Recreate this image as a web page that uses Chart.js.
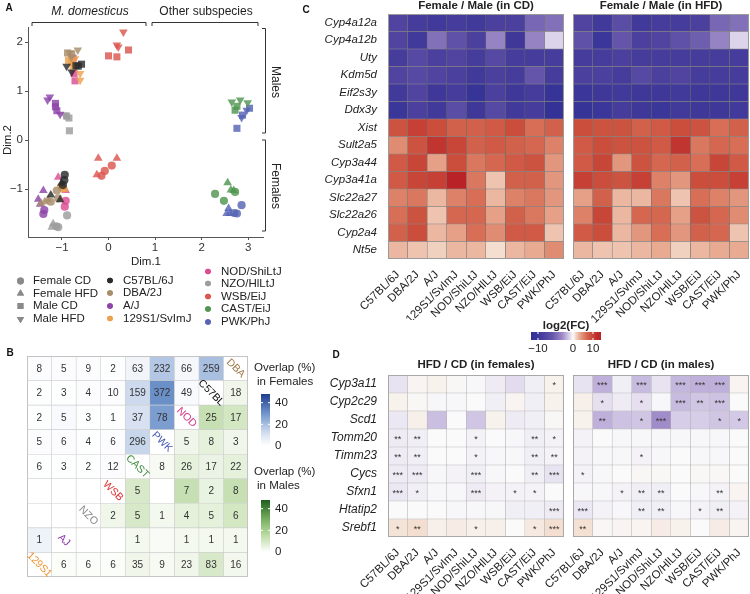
<!DOCTYPE html>
<html><head><meta charset="utf-8">
<script src="https://cdn.jsdelivr.net/npm/chart.js@4.4.1/dist/chart.umd.min.js"></script>
<style>
html,body{margin:0;padding:0;background:#fff;}
#wrap{position:relative;width:750px;height:594px;overflow:hidden;background:#fff;}
canvas{position:absolute;}
</style></head><body><div id="wrap">
<canvas id="cA" width="300" height="335" style="left:0;top:0;width:300px;height:335px"></canvas>
<canvas id="cB" width="330" height="259" style="left:0;top:335px;width:330px;height:259px"></canvas>
<canvas id="cCL" width="265" height="320" style="left:300px;top:0;width:265px;height:320px"></canvas>
<canvas id="cCR" width="250" height="355" style="left:500px;top:0;width:250px;height:355px"></canvas>
<canvas id="cDL" width="265" height="249" style="left:300px;top:345px;width:265px;height:249px"></canvas>
<canvas id="cDR" width="250" height="249" style="left:500px;top:345px;width:250px;height:249px"></canvas>
</div>
<script>
// ---------------- DATA ----------------
const strains = ['C57BL/6J','DBA/2J','A/J','129S1/SvImJ','NOD/ShiLtJ','NZO/HlLtJ','WSB/EiJ','CAST/EiJ','PWK/PhJ'];
const strainColors = ['#2b2b2b','#a88d6b','#8e44a8','#eba24e','#dc4c91','#9c9c9c','#dc5550','#4f9650','#5564b4'];
const groups = ['Female CD','Female HFD','Male CD','Male HFD'];
const xTicksA = [-1,0,1,2,3];
const yTicksA = [-1,0,1,2];
// MDS points: [Dim.1, Dim.2, group index]
const ptsC57  = [[-0.94,-0.71,0],[-0.95,-0.82,0],[-0.98,-0.92,0],[-1.01,-0.88,1],[-1.24,-1.12,1],[-1.04,-1.22,1],[-0.58,1.55,2],[-0.65,1.51,2],[-0.70,1.52,2],[-0.90,1.51,3],[-0.79,1.39,3]];
const ptsDBA  = [[-1.11,-1.03,0],[-1.24,-1.26,0],[-1.08,-1.19,0],[-1.37,-1.26,1],[-1.45,-1.29,1],[-1.30,-1.22,1],[-0.88,1.78,2],[-0.79,1.76,2],[-0.66,1.84,3],[-0.83,1.78,3],[-0.80,1.70,3]];
const ptsAJ   = [[-1.38,-1.43,0],[-1.40,-1.51,0],[-1.40,-1.03,1],[-1.51,-1.21,1],[-1.47,-1.31,1],[-1.14,0.75,2],[-1.14,0.68,2],[-1.11,0.60,2],[-1.26,0.88,3],[-1.31,0.82,3],[-1.04,0.53,3]];
const pts129  = [[-0.97,-0.99,0],[-1.02,-0.95,0],[-0.95,-1.00,1],[-0.86,1.63,2],[-0.76,1.50,2],[-0.80,1.58,2],[-0.61,1.36,3],[-0.61,1.22,3],[-0.72,1.66,3]];
const ptsNOD  = [[-0.92,-1.24,0],[-0.94,-1.36,0],[-1.08,-0.76,1],[-0.92,-1.03,1],[-0.76,1.67,2],[-0.74,1.36,2],[-0.72,1.21,2],[-0.78,1.62,3]];
const ptsNZO  = [[-0.89,-1.54,0],[-1.08,-1.78,0],[-1.12,-1.76,0],[-1.19,-1.71,1],[-1.22,-1.78,1],[-0.90,0.49,2],[-0.85,0.45,2],[-0.84,0.19,2],[-0.94,0.51,3]];
const ptsWSB  = [[-0.15,-0.73,0],[-0.08,-0.63,0],[0.07,-0.52,0],[-0.22,-0.37,1],[0.18,-0.37,1],[-0.25,-0.71,1],[0.00,1.72,2],[0.18,1.70,2],[0.43,1.84,2],[0.32,2.21,3],[0.18,1.94,3],[0.21,1.90,3]];
const ptsCAST = [[2.29,-1.10,0],[2.48,-1.24,0],[2.72,-1.06,0],[2.56,-0.87,1],[2.63,-1.02,1],[2.69,-1.03,1],[2.72,0.61,2],[2.76,0.69,2],[2.65,0.78,3],[2.83,0.82,3],[2.99,0.76,3]];
const ptsPWK  = [[2.76,-1.50,0],[2.86,-1.33,0],[2.70,-1.49,0],[2.58,-1.40,1],[2.61,-1.50,1],[2.54,-1.50,1],[3.03,0.65,2],[2.76,0.24,2],[2.88,0.51,2],[2.86,0.46,3],[2.97,0.61,3]];
const ptsA = [ptsC57,ptsDBA,ptsAJ,pts129,ptsNOD,ptsNZO,ptsWSB,ptsCAST,ptsPWK];

// Panel B: overlap counts (null = empty) and overlap % (colour)
const diagNames = ['DBA','C57BL','NOD','PWK','CAST','WSB','NZO','AJ','129S1'];
const diagColors = ['#a07a4a','#111111','#d63384','#4555b5','#3a8a3a','#e03030','#888888','#8a35a8','#ef9230'];
const countsB = [
 [8,5,9,2,63,232,66,259,null],
 [2,3,4,10,159,372,49,null,18],
 [2,5,3,1,37,78,null,25,17],
 [5,6,4,6,296,null,5,8,3],
 [6,3,2,12,null,8,26,17,22],
 [null,null,null,null,5,null,7,2,8],
 [null,null,null,2,5,1,4,5,6],
 [1,null,null,null,1,null,1,1,1],
 [null,6,6,6,35,9,23,83,16]];
const pctB = [
 [1,1,1,0.5,4,18,3,20,0],
 [0.5,0.5,1,1,13,31,2,0,3.5],
 [0.5,2,0.5,0.5,11,28,0,13,10],
 [1,1,0.5,1,14,0,3.5,6,3.5],
 [0.5,0.5,0.5,1,0,2,6,4.5,6],
 [0,0,0,0,9,0,13,5,13],
 [0,0,0,3.5,9,2.5,6,6,10],
 [5,0,0,0,2.5,1.5,2.5,2.5,2.5],
 [0,1,1,1,3.5,2,3.5,9,3]];
const legendTicksB = [0,20,40];

// Panel C: log2(FC) female/male
const genesC = ['Cyp4a12a','Cyp4a12b','Uty','Kdm5d','Eif2s3y','Ddx3y','Xist','Sult2a5','Cyp3a44','Cyp3a41a','Slc22a27','Slc22a26','Cyp2a4','Nt5e'];
const fcCD = [
 [-8,-9,-9.5,-9,-9.5,-8.5,-8.5,-5,-4.5],
 [-8,-9.5,-4.5,-6.5,-8.5,-3.5,-10,-3.5,-1],
 [-9,-7.5,-8.5,-8,-9,-7.5,-9,-9,-9],
 [-8,-7.5,-8,-8.5,-9.5,-8.5,-9,-6,-9],
 [-9.5,-8,-10,-9,-11,-8.5,-10,-9,-11],
 [-10.5,-8.5,-9.5,-7,-10,-7.5,-9.5,-9,-11.5],
 [8,9.5,8.5,7,7,7.5,8.5,6,7],
 [4.5,8,10.5,9,7,7.5,7,6.5,5],
 [7.5,9,3.5,8.5,5.5,6.5,7.5,8,4],
 [7.5,9,9.5,12,5.5,2,7,7,4],
 [5,5.5,2.5,5,6,2.5,5,5.5,4],
 [6,8,2,6.5,6.5,3.5,7,5.5,3.5],
 [7,8.5,2.5,3.5,6,4.5,7.5,7.5,2],
 [2.5,2,1.5,2.5,2.5,1,2.5,3,4.5]];
const fcHFD = [
 [-8,-9.5,-7,-9.5,-9,-9,-8.5,-5,-4.5],
 [-6.5,-10.5,-6,-8.5,-8,-6.5,-5.5,-3.5,-1],
 [-9,-9,-8.5,-9,-9,-9,-9,-9,-9],
 [-8.5,-8.5,-9,-7.5,-8.5,-8,-9,-9,-9],
 [-10.5,-10,-9.5,-10,-10,-9.5,-10,-10,-10],
 [-11,-10.5,-9,-10,-10.5,-9.5,-10,-10,-9.5],
 [8.5,8,8,7,7.5,8.5,8,6,7],
 [7.5,8.5,8,8,7.5,10.5,5.5,6.5,6],
 [7.5,9,4,8,6.5,7,6,9,7.5],
 [9.5,8.5,8,9.5,5,4,8.5,8.5,9.5],
 [3.5,7,2.5,2.5,5.5,2,6,5,4],
 [5,9,2.5,6.5,6.5,3.5,8,6.5,4.5],
 [7.5,8.5,2.5,4,6,4,7,6.5,2],
 [2.5,2,2,2.5,3,1.5,2.5,3,3]];
const fcLegendTicks = [-10,0,10];

// Panel D: log2(FC) HFD/CD and significance
const genesD = ['Cyp3a11','Cyp2c29','Scd1','Tomm20','Timm23','Cycs','Sfxn1','Htatip2','Srebf1'];
const fcFem = [
 [-0.6,0.2,0.3,0.1,-0.1,-0.4,-0.8,-0.3,0.3],
 [0.3,0.1,-0.1,-0.1,0,-0.3,0.2,-0.3,0.3],
 [-0.5,0.4,-1.6,0,-1.4,0.3,-0.4,-0.3,0.1],
 [-0.4,-0.3,0,0,-0.2,0,-0.1,-0.3,-0.2],
 [-0.4,-0.3,0,0,-0.2,-0.1,-0.1,-0.3,-0.2],
 [-0.4,-0.4,-0.1,-0.2,-0.3,-0.1,0,-0.3,-0.6],
 [-0.5,-0.3,-0.1,-0.1,-0.4,-0.2,-0.2,-0.2,0],
 [0,0,0,-0.1,-0.1,-0.1,-0.3,-0.3,-0.4],
 [0.8,1.0,0.4,0.5,0.4,0.4,0,0.6,1.0]];
const fcMal = [
 [-0.6,-2,-0.3,-1.7,-0.6,-1.8,-2,-2,0.2],
 [0.4,-0.7,-0.4,-0.7,-0.1,-1.7,-1.4,-1.5,0],
 [0.3,-2,-1.5,-1.4,-3,-1.2,-1.2,-1.4,-1.3],
 [-0.2,0,-0.1,-0.1,-0.1,-0.1,-0.1,-0.1,0],
 [-0.2,-0.1,-0.1,-0.2,-0.1,0,-0.1,-0.1,0],
 [-0.2,-0.1,0,0.1,0.1,0,0.1,0.1,0],
 [-0.1,-0.1,-0.2,-0.3,-0.3,0,-0.1,-0.2,0.2],
 [-0.5,-0.2,-0.1,-0.3,-0.3,-0.1,-0.2,-0.3,-0.2],
 [0.9,0.1,0.2,0.2,0.5,0.3,0,0.5,0.2]];
const sigFem = [
 ['','','','','','','','','*'],
 ['','','','','','','','',''],
 ['','','','','','','','',''],
 ['**','**','','','*','','','**','*'],
 ['**','**','','','*','','','**','**'],
 ['***','***','','','***','','','**','***'],
 ['***','*','','','***','','*','*',''],
 ['','','','','','','','','***'],
 ['*','**','','','*','','','*','***']];
const sigMal = [
 ['','***','','***','','***','***','***',''],
 ['','*','','*','','***','**','***',''],
 ['','**','','*','***','','','*','*'],
 ['','','','','','','','',''],
 ['','','','*','','','','',''],
 ['*','','','','','','','',''],
 ['','','*','**','**','','','**',''],
 ['***','','','**','**','','*','**',''],
 ['**','','','','','','','','']];

// ---------------- HELPERS ----------------
const FONT = "'Liberation Sans', Arial, Helvetica, sans-serif";
Chart.defaults.font.family = FONT;
Chart.defaults.color = '#222';
function lerpStops(stops, v){
  if (v <= stops[0][0]) return stops[0][1];
  for (let k=1;k<stops.length;k++){
    if (v <= stops[k][0]){ const [a,ca]=stops[k-1], [b,cb]=stops[k]; const t=(v-a)/(b-a);
      return ca.map((c,i)=>Math.round(c+(cb[i]-c)*t)); }
  }
  return stops[stops.length-1][1];
}
const rgb = a => `rgb(${a[0]},${a[1]},${a[2]})`;
const fcStops = [[-12,[48,48,150]],[-9,[70,60,155]],[-6,[100,85,170]],[-3,[160,140,200]],[-1,[220,212,235]],[0,[250,250,250]],[1,[243,222,208]],[3,[232,170,145]],[6,[215,110,85]],[9,[200,70,55]],[12,[185,35,40]]];
const blueStops = [[0,[255,255,255]],[10,[221,229,243]],[20,[169,191,224]],[30,[111,149,203]],[48,[31,61,143]]];
const greenStops = [[0,[255,255,255]],[10,[211,231,195]],[20,[168,208,142]],[30,[120,176,96]],[48,[30,94,30]]];
const fcColor = v => rgb(lerpStops(fcStops, v));
function hexA(h,a){ const n=parseInt(h.slice(1),16); return `rgba(${n>>16},${(n>>8)&255},${n&255},${a})`; }
function txt(ctx, s, x, y, o={}){
  ctx.save(); ctx.font = `${o.style||'normal'} ${o.weight||'normal'} ${o.size||11.5}px ${FONT}`;
  ctx.fillStyle=o.color||'#222'; ctx.textAlign=o.align||'center'; ctx.textBaseline=o.base||'middle';
  ctx.translate(x,y); if(o.rot) ctx.rotate(o.rot); ctx.fillText(s,0,0); ctx.restore();
}
function line(ctx, pts, color, w){ ctx.save(); ctx.strokeStyle=color||'#333'; ctx.lineWidth=w||1; ctx.beginPath();
  pts.forEach((p,i)=> i? ctx.lineTo(p[0],p[1]) : ctx.moveTo(p[0],p[1])); ctx.stroke(); ctx.restore(); }
const minusFmt = v => v<0 ? '\u2212'+Math.abs(v) : String(v);
function decor(ox, oy, fn, cellFn){
  return { id:'decor', afterDraw(chart){ const ctx=chart.ctx;
    if (cellFn) cellFn(ctx, chart);
    ctx.save(); ctx.translate(-ox,-oy); fn(ctx, chart); ctx.restore(); } };
}
function drawShape(ctx, style, x, y, r, rot, color){
  ctx.save(); ctx.fillStyle=color;
  if (Chart.helpers && Chart.helpers.drawPoint){
    Chart.helpers.drawPoint(ctx, {pointStyle:style, radius:r, rotation:rot||0, borderWidth:0}, x, y);
    ctx.fill();
  }
  ctx.restore();
}

// ---------------- PANEL A ----------------
const shapeStyles = ['circle','triangle','rect','triangle'];
const shapeRadius = [4.1,5.0,5.0,5.0];
new Chart(document.getElementById('cA'), {
  type:'scatter',
  data:{ datasets: strains.map((s,i)=>({
    label:s,
    data: ptsA[i].map(p=>({x:p[0], y:p[1]})),
    pointStyle: ptsA[i].map(p=>shapeStyles[p[2]]),
    pointRotation: ptsA[i].map(p=>p[2]===3?180:0),
    pointRadius: ptsA[i].map(p=>shapeRadius[p[2]]),
    backgroundColor: hexA(strainColors[i],0.82),
    borderWidth:0 })) },
  options:{
    responsive:false, animation:false, devicePixelRatio:1,
    layout:{padding:{left:0,right:37,top:27,bottom:65}},
    plugins:{legend:{display:false}, tooltip:{enabled:false}},
    scales:{
      x:{ type:'linear', min:-1.73, max:3.32,
          afterBuildTicks:s=>{ s.ticks = xTicksA.map(v=>({value:v})); },
          afterFit:s=>{ s.height=33; },
          ticks:{ callback:v=>minusFmt(v), font:{size:11.5}, color:'#333', padding:1 },
          grid:{ display:true, drawOnChartArea:false, tickLength:3, color:'#555' },
          border:{ color:'#555' } },
      y:{ type:'linear', min:-1.98, max:2.31,
          afterBuildTicks:s=>{ s.ticks = yTicksA.map(v=>({value:v})); },
          afterFit:s=>{ s.width=28; },
          ticks:{ callback:v=>minusFmt(v), font:{size:11.5}, color:'#333', padding:2 },
          grid:{ display:true, drawOnChartArea:false, tickLength:3, color:'#555' },
          border:{ color:'#555' } }
    }
  },
  plugins:[decor(0,0,(ctx)=>{
    txt(ctx,'A',9,8,{weight:'bold',size:10,color:'#111'});
    txt(ctx,'M. domesticus',90,12,{style:'italic',size:12});
    txt(ctx,'Other subspecies',206,12,{size:12});
    line(ctx,[[32,26],[32,22.5],[146,22.5],[146,26]],'#333',1);
    line(ctx,[[152,26],[152,22.5],[258,22.5],[258,26]],'#333',1);
    line(ctx,[[262,28.5],[265.5,28.5],[265.5,133],[262,133]],'#333',1);
    line(ctx,[[262,140],[265.5,140],[265.5,231],[262,231]],'#333',1);
    txt(ctx,'Males',275,82,{size:12,rot:Math.PI/2});
    txt(ctx,'Females',275,186,{size:12,rot:Math.PI/2});
    txt(ctx,'Dim.1',146,262,{size:11.5});
    txt(ctx,'Dim.2',8,140,{size:11.5,rot:-Math.PI/2});
    // shape legend
    const gy=[281,293.5,306,319];
    groups.forEach((g,k)=>{
      drawShape(ctx, shapeStyles[k], 20.5, gy[k], k===0?3.4:4.2, k===3?180:0, '#8a8a8a');
      txt(ctx,g,33,gy[k],{align:'left',size:11.5});
    });
    const c2y=[280.5,293,306,318.5];
    for (let k=0;k<4;k++){
      drawShape(ctx,'circle',110,c2y[k],2.8,0,strainColors[k]);
      txt(ctx,strains[k],123,c2y[k],{align:'left',size:11.5});
    }
    const c3y=[271.5,283.5,296.5,309,322];
    for (let k=4;k<9;k++){
      drawShape(ctx,'circle',208,c3y[k-4],2.8,0,strainColors[k]);
      txt(ctx,strains[k],221,c3y[k-4],{align:'left',size:11.5});
    }
  })]
});

// ---------------- HEATMAP BUILDER ----------------
function heatChart(id, o){
  return new Chart(document.getElementById(id), {
    type:'bar',
    data:{ labels:o.rows, datasets:o.cols.map((c,j)=>({
      label:c, data:o.rows.map(()=>1),
      backgroundColor:o.rows.map((r,i)=>o.colorOf(i,j)),
      borderColor:o.border, borderWidth:o.borderW, borderSkipped:false,
      barPercentage:1, categoryPercentage:1 })) },
    options:{
      indexAxis:'y', responsive:false, animation:false, devicePixelRatio:1,
      layout:{padding:o.pad},
      plugins:{legend:{display:false}, tooltip:{enabled:false}},
      scales:{
        x:{ type:'linear', stacked:true, min:0, max:o.cols.length, display:o.showX,
            afterBuildTicks:s=>{ s.ticks = o.cols.map((c,j)=>({value:j+0.5})); },
            afterFit:s=>{ s.height=o.xHeight; },
            ticks:{ autoSkip:false, minRotation:45, maxRotation:45, padding:1, font:{size:11.5}, color:'#222', callback:(v,i)=>o.cols[i] },
            grid:{display:false}, border:{display:false} },
        y:{ type:'category', stacked:true, display:o.showY,
            afterFit:s=>{ s.width=o.yWidth; },
            ticks:{ font:{size:o.yFont||11.5, style:'italic'}, color:'#222', padding:3 },
            grid:{display:false}, border:{display:false} }
      }
    },
    plugins:[decor(o.ox,o.oy,o.deco||(()=>{}),(ctx,chart)=>{
      const a=chart.chartArea; ctx.save(); ctx.strokeStyle=o.frame; ctx.lineWidth=1;
      ctx.strokeRect(a.left+0.5,a.top+0.5,a.right-a.left-1,a.bottom-a.top-1); ctx.restore();
      if (o.cellText) o.cellText(ctx,chart);
    })]
  });
}
function cellCenters(chart, fn){
  chart.data.datasets.forEach((ds,j)=>{
    chart.getDatasetMeta(j).data.forEach((el,i)=>{ fn(i,j,(el.x+el.base)/2, el.y); });
  });
}

// ---------------- PANEL B ----------------
const rowsB = diagNames.map((d,i)=>'r'+i);
heatChart('cB', {
  rows:rowsB, cols:diagNames, showX:false, showY:false, xHeight:0, yWidth:0,
  pad:{left:27,right:82,top:21,bottom:17}, border:'#cfcfcf', borderW:0.6, frame:'#c4c4c4', ox:0, oy:335,
  colorOf:(i,j)=>{ const s=i+j; if (s===8) return '#ffffff';
    return rgb(lerpStops(s<8?blueStops:greenStops, pctB[i][j])); },
  cellText:(ctx,chart)=>{
    cellCenters(chart,(i,j,x,y)=>{
      if (i+j===8){
        txt(ctx,diagNames[i],x,y,{size:10.5,color:diagColors[i],rot:Math.PI/4});
      } else if (countsB[i][j]!==null){
        txt(ctx,String(countsB[i][j]),x,y+0.5,{size:10,color:'#333'});
      }
    });
  },
  deco:(ctx)=>{
    txt(ctx,'B',10,353,{weight:'bold',size:10,color:'#111'});
    const bars=[{t1:368,t2:382,top:394,bot:446,stops:blueStops,lab:'in Females'},
                {t1:472,t2:486,top:500,bot:552,stops:greenStops,lab:'in Males'}];
    bars.forEach(b=>{
      txt(ctx,'Overlap (%)',254,b.t1,{align:'left',size:11.5});
      txt(ctx,b.lab,257,b.t2,{align:'left',size:11.5});
      const g=ctx.createLinearGradient(0,b.bot,0,b.top);
      for (let k=0;k<=10;k++){ g.addColorStop(k/10, rgb(lerpStops(b.stops, 48*k/10))); }
      ctx.fillStyle=g; ctx.fillRect(261,b.top,9,b.bot-b.top);
      legendTicksB.forEach(v=>{
        const y=b.bot - v*(b.bot-b.top)/48;
        line(ctx,[[261,y],[263,y]],'#fff',1); line(ctx,[[268,y],[270,y]],'#fff',1);
        txt(ctx,String(v),275,y,{align:'left',size:11.5});
      });
    });
  }
});

// ---------------- PANEL C ----------------
heatChart('cCL', {
  rows:genesC, cols:strains, showX:true, showY:true, xHeight:61, yWidth:88, yFont:11.5,
  pad:{left:0,right:1,top:14,bottom:0}, border:'#6e6e6e', borderW:0.5, frame:'#9a9a9a', ox:300, oy:0,
  colorOf:(i,j)=>fcColor(fcCD[i][j]),
  deco:(ctx)=>{
    txt(ctx,'C',306,10,{weight:'bold',size:10,color:'#111'});
    txt(ctx,'Female / Male (in CD)',476,6,{weight:'bold',size:11.5});
  }
});
heatChart('cCR', {
  rows:genesC, cols:strains, showX:true, showY:false, xHeight:96, yWidth:0,
  pad:{left:73,right:1,top:14,bottom:0}, border:'#6e6e6e', borderW:0.5, frame:'#9a9a9a', ox:500, oy:0,
  colorOf:(i,j)=>fcColor(fcHFD[i][j]),
  deco:(ctx)=>{
    txt(ctx,'Female / Male (in HFD)',661,6,{weight:'bold',size:11.5});
    txt(ctx,'log2(FC)',566,326,{weight:'bold',size:11.5});
    const x0=531,x1=601,xz=573;
    const g=ctx.createLinearGradient(x0,0,x1,0);
    for (let k=0;k<=20;k++){ const t=k/20; const px=x0+t*(x1-x0);
      const v = px<xz ? -12*(xz-px)/(xz-x0) : 13*(px-xz)/(x1-xz);
      g.addColorStop(t, fcColor(v)); }
    ctx.fillStyle=g; ctx.fillRect(x0,332,x1-x0,8);
    const pos={'-10':538,'0':xz,'10':593};
    fcLegendTicks.forEach(v=>{ const px=pos[String(v)];
      line(ctx,[[px,332],[px,334]],'#fff',1); line(ctx,[[px,338],[px,340]],'#fff',1);
      txt(ctx,minusFmt(v),px,349,{size:11.5}); });
  }
});

// ---------------- PANEL D ----------------
const sigText = (sig)=>(ctx,chart)=>cellCenters(chart,(i,j,x,y)=>{
  if (sig[i][j]) txt(ctx,sig[i][j],x,y+2,{size:9,color:'#333'}); });
heatChart('cDL', {
  rows:genesD, cols:strains, showX:true, showY:true, xHeight:57, yWidth:88, yFont:12,
  pad:{left:0,right:1,top:30,bottom:0}, border:'#b4b4b4', borderW:0.5, frame:'#a8a8a8', ox:300, oy:345,
  colorOf:(i,j)=>fcColor(fcFem[i][j]), cellText:sigText(sigFem),
  deco:(ctx)=>{
    txt(ctx,'D',336,355,{weight:'bold',size:10,color:'#111'});
    txt(ctx,'HFD / CD (in females)',476,365,{weight:'bold',size:11.5});
  }
});
heatChart('cDR', {
  rows:genesD, cols:strains, showX:true, showY:false, xHeight:57, yWidth:0,
  pad:{left:73,right:1,top:30,bottom:0}, border:'#b4b4b4', borderW:0.5, frame:'#a8a8a8', ox:500, oy:345,
  colorOf:(i,j)=>fcColor(fcMal[i][j]), cellText:sigText(sigMal),
  deco:(ctx)=>{
    txt(ctx,'HFD / CD (in males)',661,365,{weight:'bold',size:11.5});
  }
});
</script></body></html>
